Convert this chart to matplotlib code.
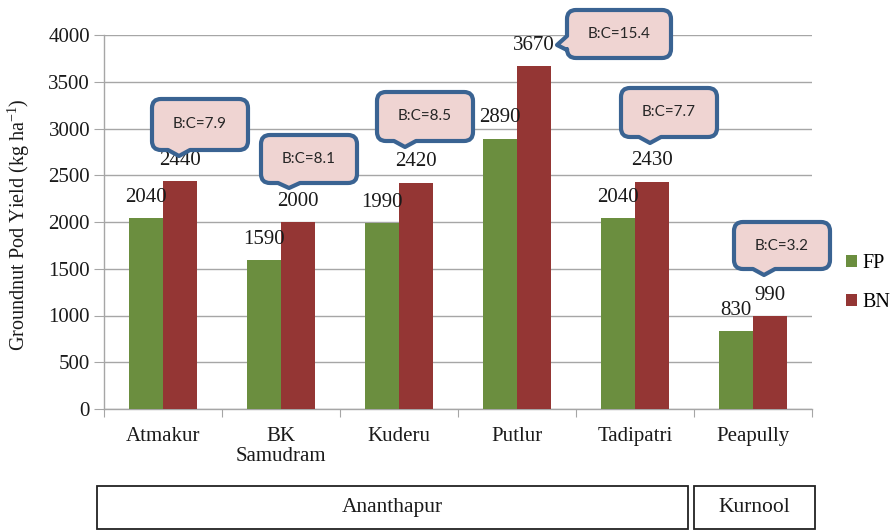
import matplotlib
matplotlib.use("Agg")
import matplotlib.pyplot as plt
import matplotlib.transforms as mtransforms
from matplotlib.path import Path
from matplotlib.patches import PathPatch, Rectangle
import numpy as np

# ---------------- data ----------------
categories = ["Atmakur", "BK\nSamudram", "Kuderu", "Putlur", "Tadipatri", "Peapully"]
fp_values = [2040, 1590, 1990, 2890, 2040, 830]
bn_values = [2440, 2000, 2420, 3670, 2430, 990]
bc_ratios = ["7.9", "8.1", "8.5", "15.4", "7.7", "3.2"]
districts = ["Ananthapur", "Kurnool"]
district_counts = [5, 1]
series_names = ["FP", "BN"]
yticks = [0, 500, 1000, 1500, 2000, 2500, 3000, 3500, 4000]

# ---------------- style ----------------
W, H = 894, 530
FP_COLOR = "#6B8E3F"
BN_COLOR = "#943634"
GRID = "#A6A6A6"
SERIF = ["Liberation Serif", "DejaVu Serif"]
SANS = ["Lato", "DejaVu Sans"]
CALL_EDGE = "#3A6392"
CALL_FILL = "#EFD4D2"
TXT = "#1a1a1a"
FS = 15

plt.rcParams["font.family"] = SERIF
plt.rcParams["mathtext.fontset"] = "custom"
plt.rcParams["mathtext.rm"] = "Liberation Serif"

fig = plt.figure(figsize=(W / 100, H / 100), dpi=100)
ax_left, ax_right, ax_bot, ax_top = 104, 812, 409, 35
ax = fig.add_axes([ax_left / W, 1 - ax_bot / H, (ax_right - ax_left) / W, (ax_bot - ax_top) / H])

x = np.arange(len(categories))
bw = 1 / 3.5
b1 = ax.bar(x - bw / 2, fp_values, bw, color=FP_COLOR, label=series_names[0], zorder=3)
b2 = ax.bar(x + bw / 2, bn_values, bw, color=BN_COLOR, label=series_names[1], zorder=3)

ax.set_xlim(-0.5, len(categories) - 0.5)
ax.set_ylim(0, 4000)
ax.set_yticks(yticks)
ax.set_yticklabels([str(v) for v in yticks], fontsize=FS, color=TXT)
ax.yaxis.grid(True, color=GRID, linewidth=1.0, zorder=0)
ax.set_axisbelow(True)
for s in ["top", "right"]:
    ax.spines[s].set_visible(False)
for s in ["left", "bottom"]:
    ax.spines[s].set_color(GRID)
    ax.spines[s].set_linewidth(1.0)
ax.tick_params(axis="y", length=7, color=GRID, pad=3)

# category ticks at boundaries, labels at centers
ax.set_xticks(np.arange(-0.5, len(categories), 1.0))
ax.set_xticklabels([])
ax.tick_params(axis="x", length=6, color=GRID)
ax.set_xticks(x, minor=True)
ax.set_xticklabels(categories, minor=True, fontsize=FS, color=TXT, linespacing=1.1, va="top")
ax.tick_params(axis="x", which="minor", length=0, pad=13)

fig.text(19 / W, 1 - 225 / H, "Groundnut Pod Yield (kg ha$^{\\mathregular{-1}}$)", rotation=90,
         ha="center", va="center", fontsize=14.5, color=TXT)

# value labels
for bars, vals in ((b1, fp_values), (b2, bn_values)):
    for r, v in zip(bars, vals):
        ax.annotate(str(v), (r.get_x() + r.get_width() / 2, v), xytext=(0, 15),
                    textcoords="offset points", ha="center", va="center",
                    fontsize=FS, color=TXT, zorder=5)

# legend
ax.legend(loc="upper left", bbox_to_anchor=((846 - ax_left) / (ax_right - ax_left), (409 - 254) / (ax_bot - ax_top)),
          frameon=False, fontsize=14.5, handlelength=0.55, handleheight=0.55,
          handletextpad=0.25, labelspacing=1.0, borderaxespad=0, borderpad=0)

# ---------------- callouts (pixel layout) ----------------
pix = mtransforms.Affine2D().scale(1 / W, -1 / H).translate(0, 1) + fig.transFigure

# (box x0, y0, x1, y1, side, pointer centre, pointer half width, tip x, tip y)
callout_layout = [
    (152, 99, 248, 150, "bottom", 179, 11, 179, 156),
    (261, 135, 357, 183, "bottom", 289, 11, 289, 188),
    (377, 92, 473, 141, "bottom", 405, 11, 405, 147),
    (567, 10, 671, 58, "left", 43, 7, 557, 45),
    (621, 88, 717, 137, "bottom", 650, 11, 650, 143),
    (734, 222, 830, 269, "bottom", 764, 11, 764, 275),
]


def callout_path(x0, y0, x1, y1, side, pc, ph, tx, ty, r=9):
    V, C = [], []

    def mv(p):
        V.append(p); C.append(Path.MOVETO)

    def ln(p):
        V.append(p); C.append(Path.LINETO)

    def cv(c, p):
        V.extend([c, p]); C.extend([Path.CURVE3, Path.CURVE3])

    mv((x0 + r, y0))
    ln((x1 - r, y0))
    cv((x1, y0), (x1, y0 + r))
    ln((x1, y1 - r))
    cv((x1, y1), (x1 - r, y1))
    if side == "bottom":
        ln((pc + ph, y1))
        ln((tx, ty))
        ln((pc - ph, y1))
    ln((x0 + r, y1))
    cv((x0, y1), (x0, y1 - r))
    if side == "left":
        ln((x0, pc + ph))
        ln((tx, ty))
        ln((x0, pc - ph))
    ln((x0, y0 + r))
    cv((x0, y0), (x0 + r, y0))
    V.append((x0 + r, y0)); C.append(Path.CLOSEPOLY)
    return Path(V, C)


for lay, ratio in zip(callout_layout, bc_ratios):
    x0, y0, x1, y1, side, pc, ph, tx, ty = lay
    p = callout_path(x0, y0, x1, y1, side, pc, ph, tx, ty)
    fig.patches.append(PathPatch(p, facecolor=CALL_FILL, edgecolor=CALL_EDGE, linewidth=3.0,
                                 transform=pix, figure=fig, joinstyle="round"))
    fig.text((x0 + x1) / 2 / W, 1 - (y0 + y1) / 2 / H, "B:C=" + ratio, ha="center", va="center",
             fontsize=11, family=SANS, color="#262626")

# ---------------- district boxes ----------------
district_boxes = [(97, 486, 688, 529), (694, 486, 815, 529)]
for (bx0, by0, bx1, by1), name in zip(district_boxes, districts):
    fig.patches.append(Rectangle((bx0, by0), bx1 - bx0, by1 - by0, fill=False, edgecolor="#222222",
                                 linewidth=1.3, transform=pix, figure=fig))
    fig.text((bx0 + bx1) / 2 / W, 1 - (by0 + by1) / 2 / H, name, ha="center", va="center",
             fontsize=15.5, color=TXT)

fig.savefig("out.png", dpi=100)
